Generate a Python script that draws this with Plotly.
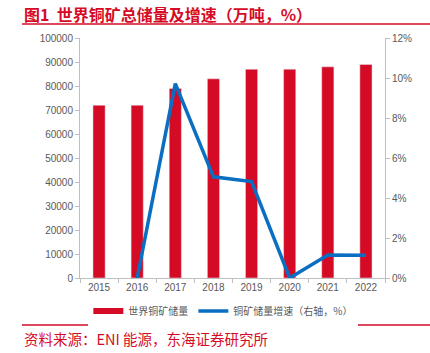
import plotly.graph_objects as go

years = ["2015", "2016", "2017", "2018", "2019", "2020", "2021", "2022"]
reserves = [72000, 72000, 79000, 83000, 87000, 87000, 88000, 89000]
growth_years = ["2016", "2017", "2018", "2019", "2020", "2021", "2022"]
growth = [0.0, 9.72, 5.06, 4.82, 0.0, 1.15, 1.14]

RED = "#D50B26"
BLUE = "#0A6FC2"
GRAY = "#595959"
FONT = "Noto Sans CJK SC"
TICKFONT = "Liberation Sans"

fig = go.Figure()
fig.add_trace(go.Bar(x=years, y=reserves, marker_color=RED, width=0.32,
                     name="世界铜矿储量", showlegend=False, yaxis="y"))
fig.add_trace(go.Scatter(x=[None], y=[None], mode="lines", name="世界铜矿储量",
                         line=dict(color=RED, width=6)))
fig.add_trace(go.Scatter(x=growth_years, y=growth, mode="lines", yaxis="y2",
                         name="铜矿储量增速（右轴，%）",
                         line=dict(color=BLUE, width=3.5)))

axis_common = dict(showline=True, linecolor="#BFBFBF", linewidth=1,
                   ticks="outside", ticklen=4, tickcolor="#BFBFBF",
                   showgrid=False, zeroline=False,
                   tickfont=dict(family=TICKFONT, size=10, color=GRAY))

fig.update_layout(
    width=430, height=353,
    margin=dict(l=80, r=45, t=38, b=75),
    paper_bgcolor="white", plot_bgcolor="white",
    xaxis=dict(**axis_common, tickson="boundaries", type="category"),
    yaxis=dict(**axis_common, range=[0, 100000], dtick=10000, tickformat="d"),
    yaxis2=dict(**axis_common, overlaying="y", side="right", range=[0, 12],
                dtick=2, ticksuffix="%"),
    legend=dict(orientation="h", x=0.47, xanchor="center", y=-0.1375,
                yanchor="middle", font=dict(family=FONT, size=10, color=GRAY),
                itemwidth=30, tracegroupgap=0),
    font=dict(family=FONT),
    shapes=[
        dict(type="line", xref="paper", yref="paper", x0=-58/305, x1=403/305,
             y0=(278-24)/240, y1=(278-24)/240, line=dict(color=RED, width=1.5)),
        dict(type="line", xref="paper", yref="paper", x0=-58/305, x1=430/305,
             y0=-(325-278)/240, y1=-(325-278)/240, line=dict(color=RED, width=1.5)),
    ],
    annotations=[
        dict(text="<b>图1  世界铜矿总储量及增速（万吨，%）</b>", xref="paper", yref="paper",
             x=-58/305, y=(278-14)/240, xanchor="left", yanchor="middle",
             showarrow=False, font=dict(family=FONT, size=16, color=RED)),
        dict(text="资料来源：ENI 能源，东海证券研究所", xref="paper", yref="paper",
             x=-58/305, y=-(338-278)/240, xanchor="left", yanchor="middle",
             showarrow=False, font=dict(family=FONT, size=14.5, color=RED)),
    ],
)

fig.write_html("out.html")
